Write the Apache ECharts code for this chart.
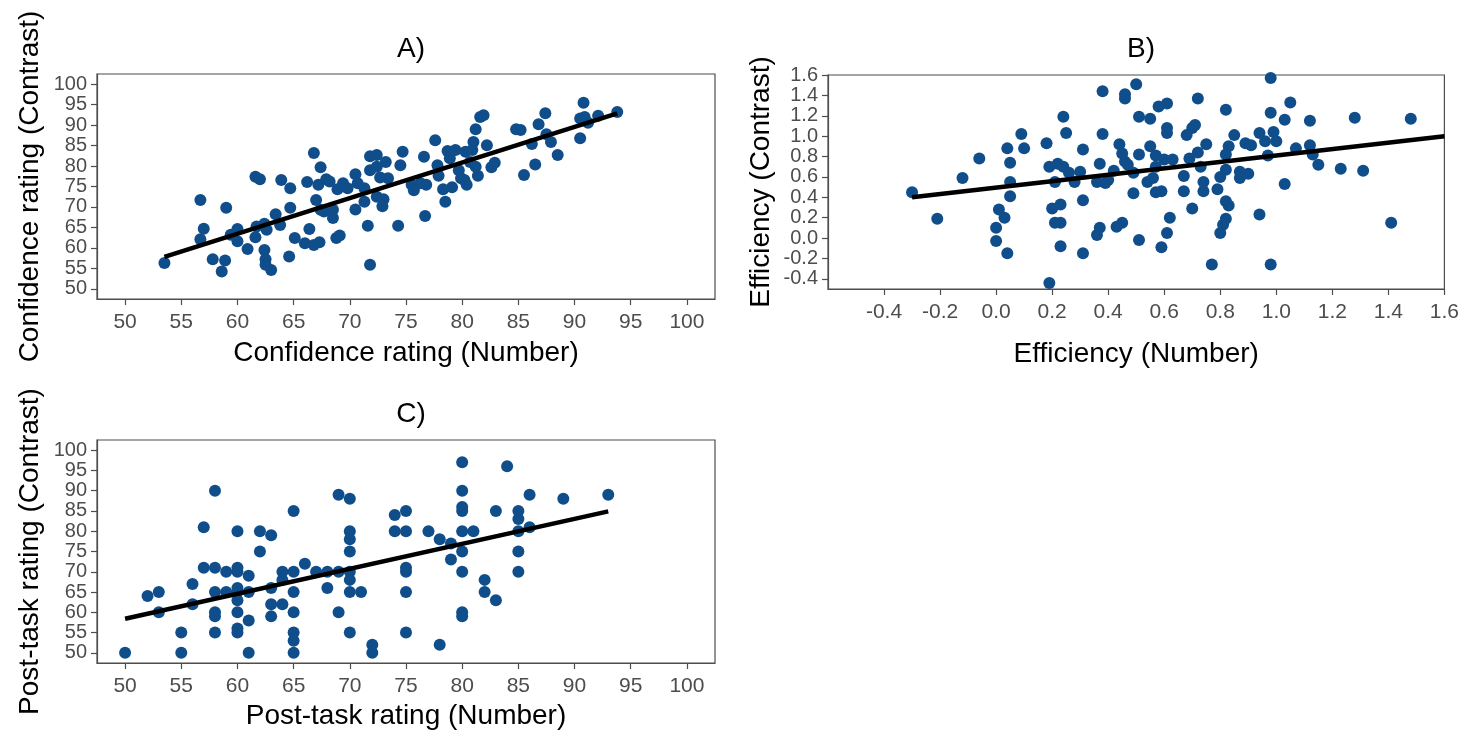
<!DOCTYPE html>
<html>
<head>
<meta charset="utf-8">
<script src="https://cdn.jsdelivr.net/npm/echarts@6/dist/echarts.min.js"></script>
<style>
html,body{margin:0;padding:0;background:#fff;}
#chart{width:1462px;height:731px;}
</style>
</head>
<body>
<div id="chart"></div>
<script>
// ---- Data ----
var panelTitles = ['A)', 'B)', 'C)'];
var xNames = ['Confidence rating (Number)', 'Efficiency (Number)', 'Post-task rating (Number)'];
var yNames = ['Confidence rating (Contrast)', 'Efficiency (Contrast)', 'Post-task rating (Contrast)'];

var ticksRating = [50, 55, 60, 65, 70, 75, 80, 85, 90, 95, 100];
var ticksEffX = [-0.4, -0.2, 0.0, 0.2, 0.4, 0.6, 0.8, 1.0, 1.2, 1.4, 1.6];
var ticksEffY = [-0.4, -0.2, 0.0, 0.2, 0.4, 0.6, 0.8, 1.0, 1.2, 1.4, 1.6];

var pointsA = [
[53.5,56.3],[56.7,71.7],[57.0,64.7],[56.7,62.1],[57.8,57.2],[58.9,56.9],[58.6,54.2],[59.0,69.8],[59.4,63.2],[60.0,64.6],
[60.0,61.6],[60.9,59.7],[61.6,77.4],[62.0,76.8],[61.7,65.2],[61.6,62.6],[62.4,65.9],[62.6,64.4],[62.4,59.5],[62.5,57.2],
[62.5,55.9],[63.0,54.6],[63.4,68.2],[63.8,65.6],[63.9,76.6],[64.7,74.6],[64.7,69.8],[64.6,57.9],[65.1,62.4],[66.2,76.1],
[66.4,64.6],[66.0,61.1],[66.8,60.7],[67.3,61.4],[66.8,83.2],[67.4,79.7],[67.0,71.7],[67.4,69.3],[67.2,75.4],[67.9,76.8],
[68.2,76.2],[67.7,68.9],[68.5,69.3],[68.5,67.3],[68.8,62.4],[69.1,63.0],[68.9,74.3],[69.4,75.8],[69.8,74.6],[70.5,78.0],
[70.7,75.8],[71.3,74.6],[71.3,71.3],[70.5,69.4],[71.6,65.4],[71.8,55.9],[71.8,82.4],[72.4,82.7],[71.8,79.0],[72.4,79.8],
[72.7,77.2],[73.2,81.0],[73.4,77.0],[72.4,72.5],[73.0,71.9],[72.9,70.2],[74.3,65.4],[74.5,80.2],[74.7,83.5],
[75.5,75.4],[75.7,74.1],[76.3,75.8],[76.8,75.4],[76.7,67.8],[76.6,82.3],[77.6,86.3],[77.8,80.2],[77.9,77.6],[78.3,74.3],
[78.5,71.3],[78.7,83.7],[78.9,81.9],[79.1,74.8],[79.4,83.9],[79.7,79.0],[79.9,77.0],[80.2,76.6],[80.4,75.4],[80.3,83.5],
[81.0,85.9],[80.9,83.9],[80.7,81.0],[81.2,79.8],[81.4,77.6],[81.2,89.0],[81.6,92.0],[81.9,92.4],[82.2,85.1],[82.6,79.7],
[82.9,80.8],[84.8,89.0],[85.2,88.8],[85.5,77.8],[86.2,85.4],[86.5,80.4],[86.8,90.2],[87.4,92.9],[87.5,87.8],[87.9,85.9],
[88.5,82.7],[90.5,86.8],[90.5,91.6],[90.8,95.5],[90.9,92.0],[91.2,90.6],[92.1,92.3],[93.8,93.2]
];
var fitA = [[53.5,57.8],[93.8,92.9]];

var pointsB = [
[-0.30,0.45],[-0.21,0.19],[-0.12,0.59],[-0.06,0.78],[0.00,-0.03],[0.00,0.10],[0.01,0.28],[0.03,0.20],[0.04,-0.15],[0.04,0.88],
[0.05,0.74],[0.05,0.55],[0.05,0.41],[0.09,1.02],[0.10,0.88],[0.18,0.93],[0.19,0.70],[0.19,-0.44],[0.20,0.29],[0.22,0.73],
[0.21,0.55],[0.21,0.15],[0.23,0.33],[0.23,-0.08],[0.23,0.15],[0.24,1.19],[0.25,1.03],[0.24,0.70],[0.26,0.64],[0.28,0.55],
[0.31,0.87],[0.30,0.65],[0.31,0.37],[0.31,-0.15],[0.36,0.03],[0.37,0.10],[0.37,0.73],[0.36,0.55],[0.38,1.44],[0.38,1.02],
[0.39,0.54],[0.40,0.57],[0.42,0.66],[0.43,0.11],[0.45,0.15],[0.44,0.92],[0.45,0.83],[0.46,0.75],[0.46,1.37],[0.46,1.41],
[0.50,1.51],[0.47,0.72],[0.49,0.64],[0.49,0.44],[0.51,-0.02],[0.51,1.19],[0.51,0.82],[0.55,1.17],[0.55,0.90],[0.57,0.81],
[0.57,0.70],[0.54,0.55],[0.56,0.59],[0.57,0.45],[0.59,0.46],[0.58,1.29],[0.61,1.32],[0.61,1.08],[0.61,1.03],[0.60,0.77],
[0.63,0.77],[0.62,0.20],[0.61,0.05],[0.59,-0.09],[0.67,0.61],[0.67,0.46],[0.68,1.01],[0.70,1.08],[0.71,1.11],[0.72,1.37],
[0.69,0.78],[0.72,0.84],[0.75,0.92],[0.73,0.70],[0.74,0.55],[0.74,0.46],[0.70,0.29],[0.77,-0.26],[0.79,0.48],[0.80,0.60],
[0.82,0.67],[0.82,0.82],[0.83,0.90],[0.82,1.26],[0.85,1.01],[0.82,0.36],[0.83,0.32],[0.82,0.19],[0.81,0.13],[0.80,0.05],
[0.87,0.65],[0.87,0.59],[0.90,0.63],[0.89,0.93],[0.91,0.91],[0.94,1.03],[0.96,0.95],[0.97,0.81],[0.94,0.23],[0.98,1.57],
[0.98,1.23],[0.98,-0.26],[0.99,1.04],[1.00,0.95],[1.03,1.16],[1.03,0.53],[1.05,1.33],[1.07,0.88],[1.12,1.15],[1.12,0.91],
[1.13,0.82],[1.15,0.72],[1.23,0.68],[1.28,1.18],[1.31,0.66],[1.41,0.15],[1.48,1.17]
];
var fitB = [[-0.3,0.40],[1.6,1.0]];

var pointsC = [
[50,50],[52,64],[53,65],[53,60],[55,55],[55,50],[56,67],[56,62],[57,81],[57,71],
[58,90],[58,71],[58,65],[58,60],[58,59],[58,55],[59,70],[59,65],[60,80],[60,71],
[60,70],[60,66],[60,65],[60,63],[60,60],[60,56],[60,55],[61,69],[61,65],[61,58],
[61,50],[62,80],[62,75],[63,79],[63,66],[63,62],[63,59],[64,70],[64,68],[64,62],
[65,85],[65,70],[65,65],[65,60],[65,55],[65,53],[65,50],[66,72],[67,70],[68,70],
[68,66],[69,70],[69,89],[69,60],[70,88],[70,80],[70,78],[70,75],[70,70],[70,68],
[70,65],[70,55],[71,65],[72,52],[72,50],[74,84],[74,80],[75,85],[75,80],[75,71],
[75,70],[75,65],[75,55],[77,80],[78,78],[78,52],[79,77],[79,73],[80,97],[80,90],
[80,86],[80,85],[80,80],[80,75],[80,70],[80,60],[80,59],[81,80],[82,68],[82,65],
[83,85],[83,63],[84,96],[85,85],[85,83],[85,80],[85,75],[85,70],[86,89],[86,81],
[89,88],[93,89]
];
var fitC = [[50,58.4],[93,84.9]];

// ---- Chart ----
var FONT = "'Liberation Sans', Arial, sans-serif";
var PT = '#104E8B';
var AX = '#4d4d4d';

function axisCommon(idx, min, max, ticks, dec, name, gap, margin, isY) {
  return {
    type: 'value', gridIndex: idx, min: min, max: max,
    name: name, nameLocation: 'middle', nameGap: gap,
    nameTextStyle: {fontFamily: FONT, fontSize: 28, color: '#000'},
    axisLine: {show: true, onZero: false, lineStyle: {color: AX, width: 1.2}},
    axisTick: {show: true, length: 6, lineStyle: {color: AX, width: 1.2}, customValues: ticks},
    axisLabel: {show: true, margin: margin, fontFamily: FONT, fontSize: isY ? 20 : 21,
      lineHeight: isY ? 15 : 24, color: AX, customValues: ticks,
      showMinLabel: true, showMaxLabel: true, hideOverlap: false,
      formatter: function (v) { return dec ? Number(v).toFixed(1) : String(v); }},
    splitLine: {show: false}
  };
}
function scat(idx, data) {
  return {type: 'scatter', xAxisIndex: idx, yAxisIndex: idx, data: data, symbolSize: 12,
    itemStyle: {color: PT, opacity: 1}, z: 2, silent: true, clip: true};
}
function fit(idx, data) {
  return {type: 'line', xAxisIndex: idx, yAxisIndex: idx, data: data, symbol: 'none',
    lineStyle: {color: '#000', width: 4.5}, z: 3, silent: true};
}

var chart = echarts.init(document.getElementById('chart'), null, {renderer: 'canvas'});
chart.setOption({
  backgroundColor: '#fff',
  animation: false,
  title: [
    {text: panelTitles[0], left: 406, top: 30, textAlign: 'center', textStyle: {fontFamily: FONT, fontSize: 28, fontWeight: 'normal', color: '#000'}},
    {text: panelTitles[1], left: 1136, top: 30, textAlign: 'center', textStyle: {fontFamily: FONT, fontSize: 28, fontWeight: 'normal', color: '#000'}},
    {text: panelTitles[2], left: 406, top: 395, textAlign: 'center', textStyle: {fontFamily: FONT, fontSize: 28, fontWeight: 'normal', color: '#000'}}
  ],
  grid: [
    {left: 97, top: 74, width: 618, height: 225, show: true, borderColor: AX, borderWidth: 1.2, backgroundColor: '#fff'},
    {left: 828, top: 75, width: 617, height: 214, show: true, borderColor: AX, borderWidth: 1.2, backgroundColor: '#fff'},
    {left: 97, top: 440, width: 618, height: 225, show: true, borderColor: AX, borderWidth: 1.2, backgroundColor: '#fff'}
  ],
  xAxis: [
    axisCommon(0, 47.5, 102.5, ticksRating, false, xNames[0], 40, 11, false),
    axisCommon(1, -0.6, 1.6, ticksEffX, true, xNames[1], 51, 11, false),
    axisCommon(2, 47.5, 102.5, ticksRating, false, xNames[2], 39, 11, false)
  ],
  yAxis: [
    axisCommon(0, 47.5, 102.5, ticksRating, false, yNames[0], 53, 10, true),
    axisCommon(1, -0.5, 1.6, ticksEffY, true, yNames[1], 53, 10, true),
    axisCommon(2, 47.5, 102.5, ticksRating, false, yNames[2], 53, 10, true)
  ],
  series: [
    scat(0, pointsA), fit(0, fitA),
    scat(1, pointsB), fit(1, fitB),
    scat(2, pointsC), fit(2, fitC)
  ]
});
</script>
</body>
</html>
